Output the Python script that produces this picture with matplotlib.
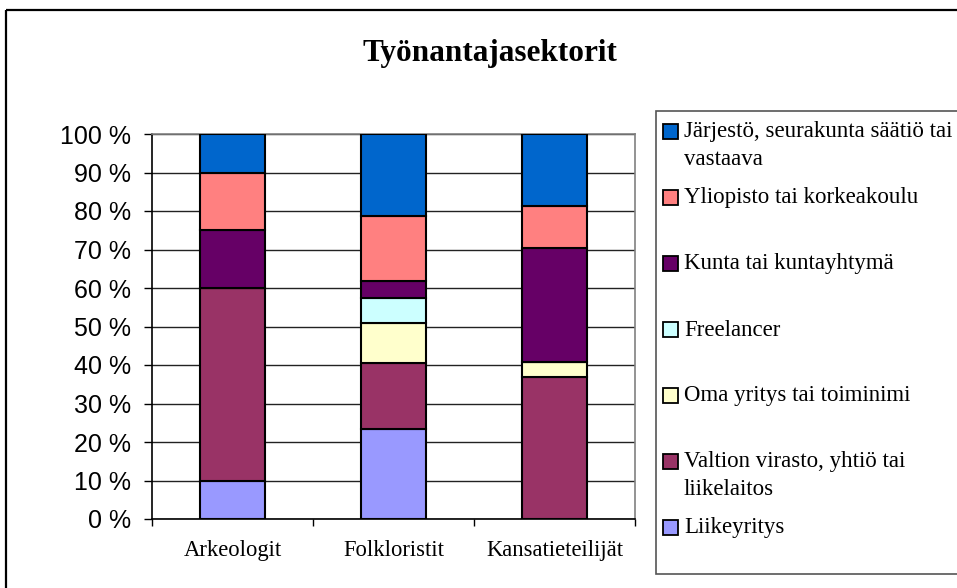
import matplotlib
matplotlib.use("Agg")
import matplotlib.pyplot as plt
from matplotlib.patches import Rectangle
import numpy as np

categories = ["Arkeologit", "Folkloristit", "Kansatieteilijät"]
series_names = ["Liikeyritys", "Valtion virasto, yhtiö tai\nliikelaitos",
                "Oma yritys tai toiminimi", "Freelancer", "Kunta tai kuntayhtymä",
                "Yliopisto tai korkeakoulu", "Järjestö, seurakunta säätiö tai\nvastaava"]
colors = ["#9999FF", "#993366", "#FFFFCC", "#CCFFFF", "#660066", "#FF8080", "#0066CC"]

liikeyritys = [10.0, 23.4, 0.0]
valtion = [50.0, 17.0, 37.0]
oma_yritys = [0.0, 10.6, 3.7]
freelancer = [0.0, 6.4, 0.0]
kunta = [15.0, 4.3, 29.6]
yliopisto = [15.0, 17.0, 11.1]
jarjesto = [10.0, 21.3, 18.5]
series = [liikeyritys, valtion, oma_yritys, freelancer, kunta, yliopisto, jarjesto]
yticklabels = [f"{v} %" for v in range(0, 101, 10)]
title = "Työnantajasektorit"

W, H = 957, 588
fig = plt.figure(figsize=(W / 100, H / 100), dpi=100)

def fx(x):
    return x / W

def fy(y):
    return 1 - y / H

# plot area in pixel coords
L, R, T, B = 152, 635, 134, 519
ax = fig.add_axes([fx(L), fy(B), (R - L) / W, (B - T) / H])

x = np.arange(len(categories))
bottom = np.zeros(len(categories))
for vals, col in zip(series, colors):
    vals = np.array(vals)
    ax.bar(x, vals, 0.4, bottom=bottom, color=col, edgecolor="black",
           linewidth=1.5, zorder=3)
    bottom += vals

ax.set_xlim(-0.5, 2.5)
ax.set_ylim(0, 100)
ax.set_yticks(np.arange(0, 101, 10))
ax.set_yticklabels(yticklabels, fontfamily="Liberation Sans", fontsize=18)
ax.tick_params(axis="y", length=6, width=1, pad=9, direction="out")
ax.yaxis.grid(True, color="#222222", linewidth=1, zorder=0)
ax.set_axisbelow(True)

ax.set_xticks([-0.5, 0.5, 1.5, 2.5])
ax.set_xticklabels([])
ax.tick_params(axis="x", which="major", length=5, width=1, direction="out")
ax.set_xticks(x, minor=True)
ax.set_xticklabels(categories, minor=True, fontfamily="Liberation Serif", fontsize=16.3)
ax.tick_params(axis="x", which="minor", length=0, pad=15)

for s in ["left", "bottom"]:
    ax.spines[s].set_color("black")
    ax.spines[s].set_linewidth(1.2)
for s in ["right", "top"]:
    ax.spines[s].set_color("#808080")
    ax.spines[s].set_linewidth(1.2)

# overlay for frame, title, legend
ov = fig.add_axes([0, 0, 1, 1], zorder=-1)
ov.set_xlim(0, W)
ov.set_ylim(H, 0)
ov.axis("off")
ov.plot([6, 6], [10, H + 5], color="black", lw=1.6, solid_capstyle="butt")
ov.plot([6, W + 5], [10, 10], color="black", lw=1.6, solid_capstyle="butt")

ov2 = fig.add_axes([0, 0, 1, 1], zorder=5)
ov2.set_xlim(0, W)
ov2.set_ylim(H, 0)
ov2.axis("off")
ov2.text(490, 61, title, ha="center", va="baseline", fontfamily="Liberation Serif",
         fontweight="bold", fontsize=22.5)

# legend box
ov2.add_patch(Rectangle((656, 111), W - 656 + 10, 574 - 111, facecolor="white",
                        edgecolor="#555555", lw=1.2))
y0, step, line_h = 131.0, 66.0, 27.5
for i, (name, col) in enumerate(zip(series_names[::-1], colors[::-1])):
    yc = y0 + i * step
    ov2.add_patch(Rectangle((663, yc - 7.5), 15, 15, facecolor=col,
                            edgecolor="black", lw=1.3))
    for j, line in enumerate(name.split("\n")):
        ov2.text(684, yc + 6.5 + j * line_h, line, ha="left", va="baseline",
                 fontfamily="Liberation Serif", fontsize=16.5)

fig.savefig("out.png", dpi=100)
